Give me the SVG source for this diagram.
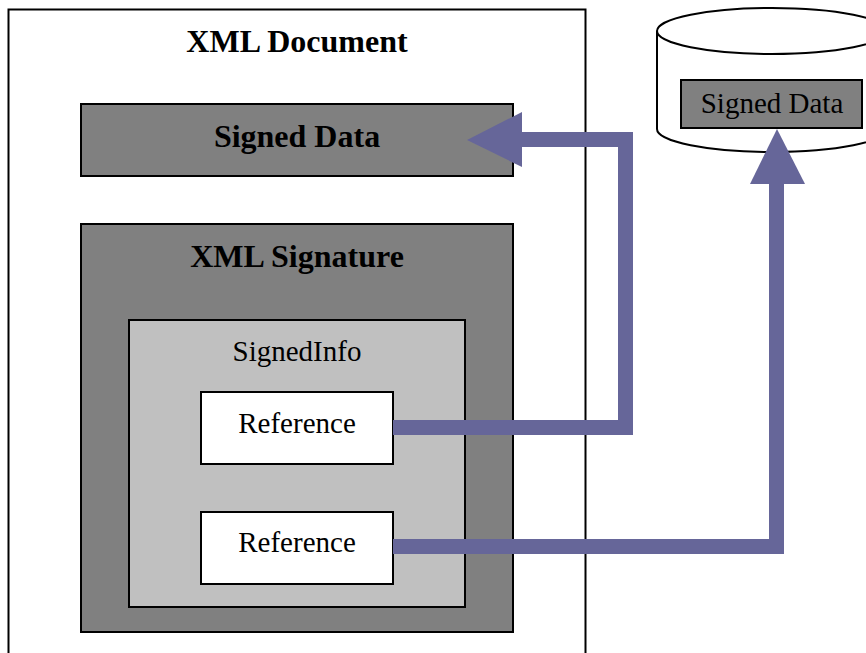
<svg xmlns="http://www.w3.org/2000/svg" width="866" height="653" viewBox="0 0 866 653">
  <style>
    .box { stroke: #000; stroke-width: 2; }
    .dark { fill: #808080; }
    .light { fill: #c0c0c0; }
    .white { fill: #fff; }
    .bold { font-family: "Liberation Serif", "Times New Roman", serif; font-weight: bold; font-size: 32px; fill: #000; text-anchor: middle; }
    .reg { font-family: "Liberation Serif", "Times New Roman", serif; font-size: 29px; fill: #000; text-anchor: middle; }
    .flow { fill: none; stroke: #666699; stroke-width: 15; stroke-linejoin: miter; }
    .head { fill: #666699; }
  </style>
  <rect width="866" height="653" fill="#fff"/>

  <g id="xml-document">
    <rect class="box white" x="8.5" y="9.5" width="577" height="660"/>
    <text class="bold" x="297" y="52">XML Document</text>
  </g>

  <g id="signed-data">
    <rect class="box dark" x="81" y="104" width="432" height="72"/>
    <text class="bold" x="297" y="147">Signed Data</text>
  </g>

  <g id="xml-signature">
    <rect class="box dark" x="81" y="224" width="432" height="408"/>
    <text class="bold" x="297" y="267">XML Signature</text>
  </g>

  <g id="signed-info">
    <rect class="box light" x="129" y="320" width="336" height="287"/>
    <text class="reg" x="297" y="361">SignedInfo</text>
  </g>

  <g id="reference-1">
    <rect class="box white" x="201" y="392" width="192" height="72"/>
    <text class="reg" x="297" y="433">Reference</text>
  </g>

  <g id="reference-2">
    <rect class="box white" x="201" y="512" width="192" height="72"/>
    <text class="reg" x="297" y="552">Reference</text>
  </g>

  <g id="external-store">
    <path class="box white" d="M657,31 L657,129 A115,23 0 0 0 887,129 L887,31"/>
    <ellipse class="box white" cx="772" cy="31" rx="115" ry="23"/>
    <rect class="box dark" x="681" y="80" width="181" height="48"/>
    <text class="reg" x="772" y="113">Signed Data</text>
  </g>

  <g id="connectors">
    <polyline class="flow" points="393,427.5 625.5,427.5 625.5,139.5 520,139.5"/>
    <polygon class="head" points="467,140 522,112 522,167"/>
    <polyline class="flow" points="393,546.5 776.5,546.5 776.5,181"/>
    <polygon class="head" points="777,129 750,184 805,184"/>
  </g>
</svg>
